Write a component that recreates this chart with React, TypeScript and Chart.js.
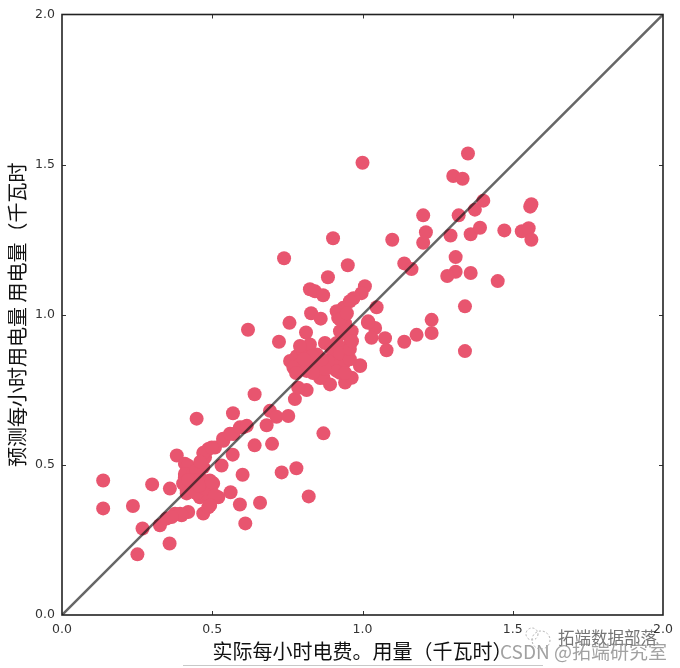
import React, { useEffect, useRef } from "react";
import { Chart, registerables } from "chart.js";

Chart.register(...registerables);

const actualUsage = [
  1.351,1.0,1.302,1.333,1.402,1.374,1.562,1.558,1.202,1.32,1.211,1.202,1.099,1.293,1.36,1.391,1.472,1.53,1.553,1.562,
  1.31,0.951,1.139,1.163,1.31,1.282,1.36,1.45,1.008,0.997,0.97,1.341,1.047,1.23,1.019,1.042,1.23,1.18,1.139,1.03,
  1.075,1.08,1.341,0.992,0.947,0.958,0.947,0.964,
  0.137,0.137,0.236,0.3,0.268,0.251,0.358,0.326,0.348,0.376,0.42,0.398,0.359,0.382,0.409,0.448,0.569,0.641,0.619,0.722,
  0.757,0.812,0.829,0.861,0.992,0.87,0.821,0.78,0.731,0.699,0.641,0.568,0.601,0.561,0.52,0.659,0.592,0.61,0.47,0.487,
  0.531,0.503,0.47,0.436,0.409,0.459,0.481,0.431,0.47,0.492,0.415,0.476,0.487,0.509,0.537,0.47,0.57,0.603,0.681,0.692,
  0.714,0.753,0.775,0.814,0.786,0.759,0.781,0.803,0.825,0.848,0.825,0.792,0.77,0.814,0.842,0.875,0.914,0.958,0.947,0.903,
  0.892,0.936,0.87,0.892,0.942,0.964,0.925,0.919,0.936,0.914,0.958,1.018,0.825,0.842,0.869,0.885,0.902,0.739,
  0.897,0.919,0.925,0.859,0.914,0.942,0.925,0.885,0.875,0.958,0.865,0.832,0.792,0.835,0.805,0.779,0.942,0.958,0.965,0.925,0.942,0.925,0.948,
  0.419,0.409,0.403,0.436,0.448,0.469,0.415,0.448,0.476,0.498,0.498,0.536,0.559,0.592,0.615,0.509,0.493,0.393,0.365,0.45,0.435,0.42,0.455,0.46,
];
const predictedUsage = [
  1.537,1.506,1.462,1.453,1.38,1.35,1.368,1.36,1.331,1.331,1.275,1.24,1.25,1.264,1.268,1.29,1.281,1.278,1.288,1.25,
  1.192,1.165,1.171,1.152,1.143,1.129,1.139,1.112,1.095,1.072,1.055,1.028,1.025,0.983,0.978,0.956,0.939,0.933,0.91,0.923,
  0.922,0.882,0.879,0.832,0.935,0.902,0.869,0.945,
  0.448,0.355,0.363,0.435,0.288,0.202,0.238,0.299,0.321,0.337,0.343,0.332,0.421,0.531,0.504,0.654,0.672,0.735,0.95,0.91,
  0.973,0.941,1.005,0.987,0.829,0.605,0.395,0.489,0.475,0.57,0.565,0.534,0.467,0.409,0.392,0.374,0.368,0.305,0.338,0.359,
  0.498,0.438,0.426,0.426,0.459,0.392,0.404,0.481,0.492,0.448,0.415,0.525,0.553,0.558,0.58,0.54,0.603,0.625,0.632,0.68,
  0.66,0.663,0.719,0.749,0.757,0.846,0.862,0.879,0.901,0.868,0.846,0.835,0.824,0.813,0.835,0.906,0.906,0.934,0.879,0.857,
  0.824,0.835,0.79,0.768,0.774,0.79,0.807,0.99,1.023,1.012,1.045,0.973,1.085,1.078,1.065,1.125,1.255,1.188,
  0.885,0.896,0.836,0.789,0.813,0.846,0.872,0.846,0.819,0.852,0.852,0.862,0.896,0.806,0.852,0.806,0.806,0.886,0.912,0.945,0.972,0.985,1.005,
  0.498,0.47,0.438,0.471,0.482,0.448,0.405,0.405,0.421,0.442,0.558,0.587,0.604,0.625,0.63,0.398,0.365,0.337,0.326,0.45,0.45,0.45,0.43,0.51,
];
const diagonalX = [0, 2];
const diagonalY = [0, 2];
const tickValues = [0, 0.5, 1, 1.5, 2];
const xTitle = "实际每小时电费。用量（千瓦时）";
const yTitle = "预测每小时用电量 用电量（千瓦时";
const watermarkLines = ["拓端数据部落", "CSDN @拓端研究室"];

const decorations = {
  id: "decorations",
  afterDatasetsDraw(chart: any) {
    const { ctx, chartArea: a, scales } = chart;
    ctx.save();
    ctx.strokeStyle = "#333";
    ctx.lineWidth = 1;
    ctx.beginPath();
    for (const v of tickValues.slice(1, -1)) {
      const px = Math.round(scales.x.getPixelForValue(v)) + 0.5;
      const py = Math.round(scales.y.getPixelForValue(v)) + 0.5;
      ctx.moveTo(px, a.bottom); ctx.lineTo(px, a.bottom - 4);
      ctx.moveTo(px, a.top); ctx.lineTo(px, a.top + 4);
      ctx.moveTo(a.left, py); ctx.lineTo(a.left + 4, py);
      ctx.moveTo(a.right, py); ctx.lineTo(a.right - 4, py);
    }
    ctx.stroke();
    ctx.strokeStyle = "#222";
    ctx.lineWidth = 1.6;
    ctx.strokeRect(a.left, a.top, a.right - a.left, a.bottom - a.top);
    ctx.restore();
  },
  afterDraw(chart: any) {
    const { ctx } = chart;
    ctx.save();
    ctx.strokeStyle = "#c8c8c8";
    ctx.lineWidth = 1;
    ctx.beginPath();
    ctx.moveTo(183, 665.5); ctx.lineTo(543, 665.5);
    ctx.stroke();
    ctx.textBaseline = "middle";
    ctx.textAlign = "left";
    ctx.fillStyle = "rgba(70,70,70,0.75)";
    ctx.font = '16.5px "Noto Sans CJK SC"';
    ctx.fillText(watermarkLines[0], 558, 638);
    ctx.fillStyle = "rgba(130,130,130,0.75)";
    ctx.font = '19px "Noto Sans CJK SC"';
    ctx.fillText(watermarkLines[1], 500, 652);
    ctx.strokeStyle = "rgba(170,170,170,0.9)";
    ctx.lineWidth = 1;
    ctx.setLineDash([2, 2]);
    ctx.beginPath();
    ctx.arc(532, 634, 6, 0, Math.PI * 2);
    ctx.moveTo(550, 640);
    ctx.arc(541, 640, 9, 0, Math.PI * 2);
    ctx.stroke();
    ctx.restore();
  },
};

export default function App() {
  const ref = useRef<HTMLCanvasElement>(null);
  useEffect(() => {
    document.body.style.margin = "0";
    const chart = new Chart(ref.current!, {
      type: "scatter",
      data: {
        datasets: [
          {
            type: "line",
            data: diagonalX.map((x, i) => ({ x, y: diagonalY[i] })),
            borderColor: "rgba(20,20,20,0.65)",
            borderWidth: 2.5,
            pointRadius: 0,
            order: 0,
          },
          {
            data: actualUsage.map((x, i) => ({ x, y: predictedUsage[i] })),
            backgroundColor: "#e8556f",
            borderColor: "#e8556f",
            borderWidth: 0,
            pointRadius: 7,
            order: 1,
          },
        ],
      } as any,
      options: {
        animation: false,
        responsive: false,
        layout: { padding: { top: 12, right: 17, bottom: 0, left: 0 } },
        plugins: { legend: { display: false }, tooltip: { enabled: false } },
        scales: {
          x: {
            type: "linear",
            min: 0,
            max: 2,
            afterFit(s: any) { s.height = 53; },
            afterBuildTicks(s: any) { s.ticks = tickValues.map((value) => ({ value })); },
            grid: { display: false, drawTicks: false },
            border: { display: false },
            ticks: {
              autoSkip: false,
              maxRotation: 0,
              padding: 7,
              color: "#333",
              font: { family: "DejaVu Sans", size: 12.5 },
              callback: (v: any) => Number(v).toFixed(1),
            },
            title: {
              display: true,
              text: xTitle,
              color: "#111",
              font: { family: "Noto Sans CJK SC", size: 20 },
              padding: { top: 0, bottom: 5 },
            },
          },
          y: {
            type: "linear",
            min: 0,
            max: 2,
            afterFit(s: any) { s.width = 62; },
            afterBuildTicks(s: any) { s.ticks = tickValues.map((value) => ({ value })); },
            grid: { display: false, drawTicks: false },
            border: { display: false },
            ticks: {
              autoSkip: false,
              padding: 7,
              color: "#333",
              font: { family: "DejaVu Sans", size: 12.5 },
              callback: (v: any) => Number(v).toFixed(1),
            },
            title: {
              display: true,
              text: yTitle,
              color: "#111",
              font: { family: "Noto Sans CJK SC", size: 20 },
              padding: { top: 5, bottom: 0 },
            },
          },
        },
      },
      plugins: [decorations],
    } as any);
    return () => chart.destroy();
  }, []);
  return <canvas ref={ref} width={680} height={668} style={{ display: "block" }} />;
}
